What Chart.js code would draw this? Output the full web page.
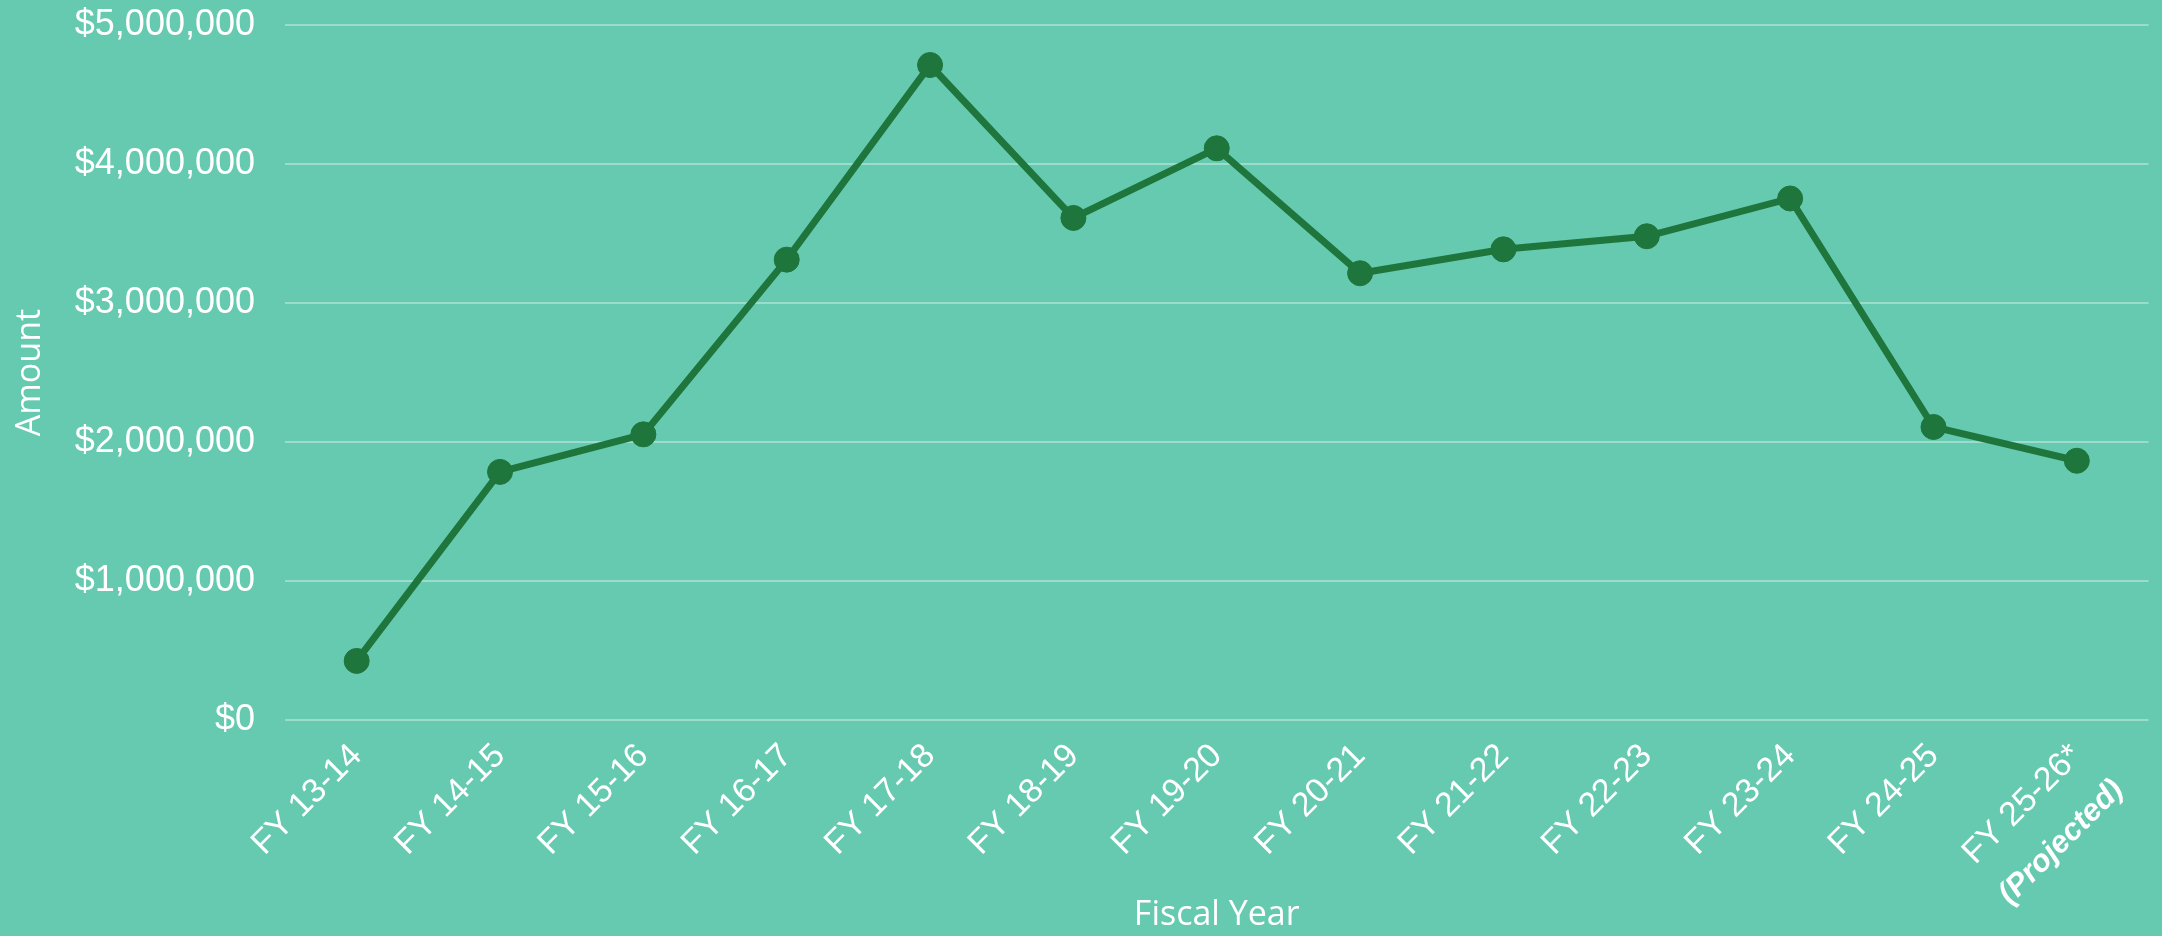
<!DOCTYPE html>
<html>
<head>
<meta charset="utf-8">
<script src="https://cdn.jsdelivr.net/npm/chart.js@4.4.1/dist/chart.umd.min.js"></script>
<style>
  html, body { margin: 0; padding: 0; background: #66CAB0; }
  #wrap { width: 2162px; height: 936px; position: relative; }
</style>
</head>
<body>
<div id="wrap"><canvas id="c" width="2162" height="936"></canvas></div>
<script>
// ---- data ----
const categories = ['FY 13-14','FY 14-15','FY 15-16','FY 16-17','FY 17-18','FY 18-19','FY 19-20','FY 20-21','FY 21-22','FY 22-23','FY 23-24','FY 24-25','FY 25-26*'];
const amounts = [425000, 1785000, 2055000, 3312000, 4712000, 3612000, 4113000, 3214000, 3386000, 3480000, 3752000, 2108000, 1865000];
const projectedNote = '(Projected)';
const yTickValues = [0, 1000000, 2000000, 3000000, 4000000, 5000000];
const xTitle = 'Fiscal Year';
const yTitle = 'Amount';

const BG = '#66CAB0';
const LINE = '#1E763D';
const WHITE = '#FFFFFF';

const bgPlugin = {
  id: 'bg',
  beforeDraw(chart) {
    const ctx = chart.ctx;
    ctx.save();
    ctx.fillStyle = BG;
    ctx.fillRect(0, 0, chart.width, chart.height);
    ctx.restore();
  }
};

const projectedPlugin = {
  id: 'projected',
  afterDraw(chart) {
    const xs = chart.scales.x;
    const items = xs.getLabelItems();
    const it = items[items.length - 1];
    if (!it) return;
    const o = it.options;
    const ctx = chart.ctx;
    ctx.save();
    ctx.translate(o.translation[0], o.translation[1]);
    ctx.rotate(o.rotation);
    ctx.font = 'italic bold 31px "Liberation Sans", Arial, sans-serif';
    ctx.fillStyle = WHITE;
    ctx.textAlign = o.textAlign;
    ctx.textBaseline = o.textBaseline;
    ctx.fillText(projectedNote, 5, it.textOffset + 54);
    ctx.restore();
  }
};

new Chart(document.getElementById('c'), {
  type: 'line',
  data: {
    labels: categories,
    datasets: [{
      data: amounts,
      borderColor: LINE,
      backgroundColor: LINE,
      borderWidth: 7,
      tension: 0,
      pointRadius: 12.5,
      pointBorderWidth: 1,
      pointBorderColor: LINE,
      pointBackgroundColor: LINE,
      fill: false
    }]
  },
  options: {
    responsive: false,
    animation: false,
    devicePixelRatio: 1,
    layout: { padding: { top: 25, right: 12, left: 0, bottom: 0 } },
    plugins: { legend: { display: false }, tooltip: { enabled: false } },
    scales: {
      x: {
        offset: true,
        grid: { display: false, drawTicks: false },
        border: { display: false },
        ticks: {
          autoSkip: false,
          minRotation: 45,
          maxRotation: 45,
          padding: 16,
          color: WHITE,
          font: { family: '"Liberation Sans", Arial, sans-serif', size: 34 }
        },
        title: {
          display: true,
          text: xTitle,
          color: WHITE,
          padding: { top: 0, bottom: 0 },
          font: { family: '"Open Sans", sans-serif', size: 34 }
        },
        afterFit(scale) { scale.height = 216; }
      },
      y: {
        min: 0,
        max: 5000000,
        afterBuildTicks(scale) { scale.ticks = yTickValues.map(v => ({ value: v })); },
        grid: { color: 'rgba(255,255,255,0.35)', lineWidth: 2, drawTicks: false },
        border: { display: false },
        ticks: {
          padding: 30,
          color: WHITE,
          font: { family: '"Liberation Sans", Arial, sans-serif', size: 36 },
          callback: (v) => '$' + Number(v).toLocaleString('en-US')
        },
        title: {
          display: true,
          text: yTitle,
          color: WHITE,
          padding: { top: 10, bottom: 0 },
          font: { family: '"Open Sans", sans-serif', size: 34 }
        },
        afterFit(scale) { scale.width = 285; scale.paddingTop = 0; scale.paddingBottom = 0; }
      }
    }
  },
  plugins: [bgPlugin, projectedPlugin]
});
</script>
</body>
</html>
